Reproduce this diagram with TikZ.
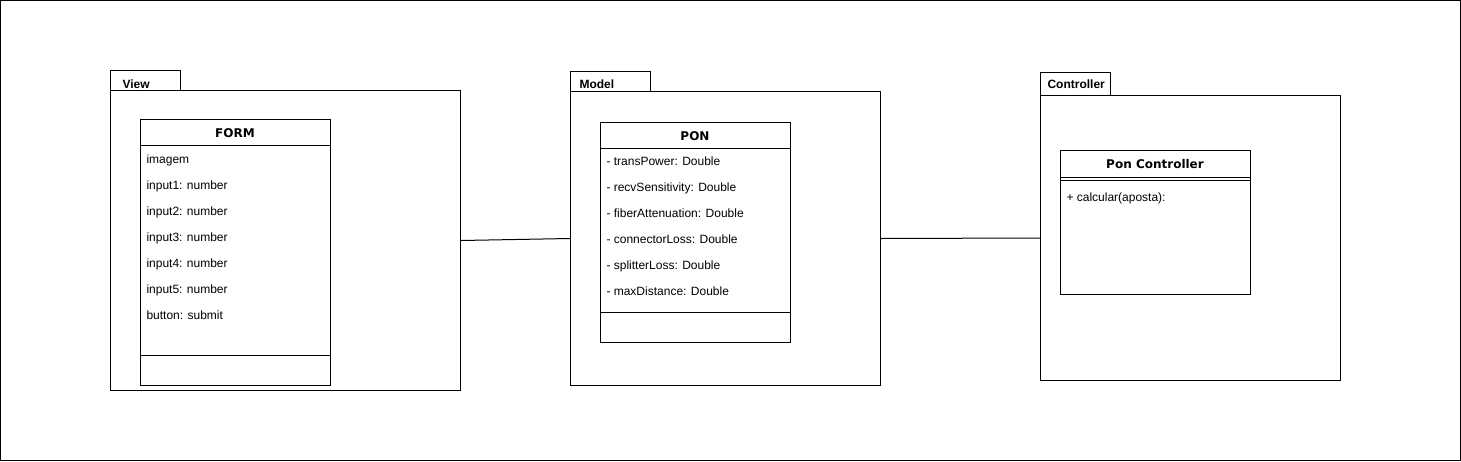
\documentclass[tikz,border=0pt]{standalone}
\usepackage{fontspec}
\setmainfont{Liberation Sans}
\newfontfamily\titlefont{DejaVu Sans}
\usetikzlibrary{positioning}

\begin{document}
\begin{tikzpicture}[x=1pt,y=-1pt,line width=1pt,
    box/.style={draw,anchor=north west,inner sep=0pt},
    pkgname/.style={anchor=west,inner sep=0pt,font=\fontsize{12}{14}\selectfont\bfseries},
    classname/.style={inner sep=0pt,text height=8.75pt,text depth=0pt,font=\fontsize{12}{14}\titlefont\bfseries},
    attr/.style={anchor=west,inner sep=0pt,text height=8.6pt,text depth=2.5pt,font=\fontsize{12}{14}\selectfont}]
        \useasboundingbox (0,0) rectangle (1461,461);
        \draw (0.5,0.5) rectangle (1460.5,460.5);
        % packages
        \node[box,minimum width=70pt,minimum height=20pt] (viewtab) at (110,70) {};
        \node[box,minimum width=350pt,minimum height=300pt] (viewpkg) at (110,90) {};
        \node[pkgname] (viewname) at (122,84.5) {View};
        \node[box,minimum width=80pt,minimum height=20pt] (modeltab) at (570,71) {};
        \node[box,minimum width=310pt,minimum height=294pt] (modelpkg) at (570,91) {};
        \node[pkgname] (modelname) at (579,84.5) {Model};
        \node[box,minimum width=70pt,minimum height=23pt] (ctrltab) at (1040,72) {};
        \node[box,minimum width=300pt,minimum height=285pt] (ctrlpkg) at (1040,95) {};
        \node[pkgname] (ctrlname) at (1047,84.5) {Controller};
        % FORM
        \node[box,minimum width=190pt,minimum height=266pt] (formbox) at (140,119) {};
        \node[classname] (formname) at (235,133.5) {FORM};
        \draw (140,145)--(330,145);
        \draw (140,355)--(330,355);
        \node[attr] (imagem) at (146,160) {imagem};
        \node[attr] (input1) at (146,186) {input1: number};
        \node[attr] (input2) at (146,212) {input2: number};
        \node[attr] (input3) at (146,238) {input3: number};
        \node[attr] (input4) at (146,264) {input4: number};
        \node[attr] (input5) at (146,290) {input5: number};
        \node[attr] (button) at (146,316) {button: submit};
        % PON
        \node[box,minimum width=190pt,minimum height=220pt] (ponbox) at (600,122) {};
        \node[classname] (ponname) at (695,136.5) {PON};
        \draw (600,148)--(790,148);
        \draw (600,312)--(790,312);
        \node[attr] (transpower) at (606,162.5) {- transPower: Double};
        \node[attr] (recvsens) at (606,188.5) {- recvSensitivity: Double};
        \node[attr] (fiberatt) at (606,214.5) {- fiberAttenuation: Double};
        \node[attr] (connloss) at (606,240.5) {- connectorLoss: Double};
        \node[attr] (splitloss) at (606,266.5) {- splitterLoss: Double};
        \node[attr] (maxdist) at (606,292.5) {- maxDistance: Double};
        % Pon Controller
        \node[box,minimum width=190pt,minimum height=144pt] (ctrlbox) at (1060,150) {};
        \node[classname] (ctrlclass) at (1155,164.5) {Pon Controller};
        \draw (1060,177)--(1250,177);
        \draw (1060,180)--(1250,180);
        \node[attr] (calcular) at (1066,198.5) {+ calcular(aposta):};
        % links
        \draw (viewpkg.east)--(modelpkg.west);
        \draw (modelpkg.east)--(ctrlpkg.west);
      \end{tikzpicture}
\end{document}
